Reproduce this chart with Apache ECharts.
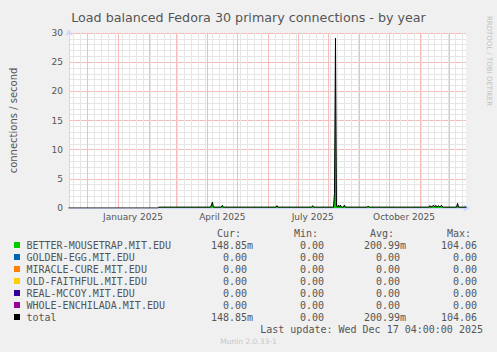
<!DOCTYPE html>
<html><head><meta charset="utf-8">
<script src="https://cdn.jsdelivr.net/npm/echarts@6/dist/echarts.min.js"></script>
<style>html,body{margin:0;padding:0;background:#f0f0f0}#c{width:497px;height:352px}</style>
</head><body><div id="c"></div>
<script>
// ---- texts ----
const chartTitle = 'Load balanced Fedora 30 primary connections - by year';
const yAxisName = 'connections / second';
const xLabelTexts = ['January 2025', 'April 2025', 'July 2025', 'October 2025'];
const xLabelDates = ['2025-01-16', '2025-04-16', '2025-07-16', '2025-10-16'];
const lastUpdate = 'Last update: Wed Dec 17 04:00:00 2025';
const version = 'Munin 2.0.33-1';
const sideText = 'RRDTOOL / TOBI OETIKER';

// ---- data (daily average) ----
const days = [
  '2024-11-12','2025-02-10','2025-02-11','2025-04-04','2025-04-05','2025-04-06','2025-04-07',
  '2025-04-15','2025-04-16','2025-04-17','2025-06-09','2025-06-10','2025-06-11',
  '2025-07-15','2025-07-16','2025-07-17','2025-08-06','2025-08-07','2025-08-08','2025-08-09',
  '2025-08-10','2025-08-11','2025-08-12','2025-08-13','2025-08-14','2025-08-16','2025-08-17','2025-08-18',
  '2025-09-09','2025-09-10','2025-09-11','2025-11-10','2025-11-11','2025-11-12','2025-11-15',
  '2025-11-16','2025-11-17','2025-11-18','2025-11-20','2025-11-21','2025-11-23','2025-11-24',
  '2025-12-08','2025-12-09','2025-12-10','2025-12-18'
];
const mousetrap = [
  0, 0, 0.15, 0.15, 0.5, 1.0, 0.15,
  0.15, 0.45, 0.15, 0.15, 0.4, 0.15,
  0.15, 0.4, 0.15, 0.15, 2.5, 29.1, 0.3,
  0.15, 0.5, 0.15, 0.5, 0.15, 0.15, 0.5, 0.15,
  0.15, 0.35, 0.15, 0.15, 0.4, 0.15, 0.45,
  0.2, 0.45, 0.15, 0.4, 0.2, 0.45, 0.15,
  0.15, 0.8, 0.15, 0.15
];
// other hosts are 0 throughout
const totalVals = mousetrap.slice();

// ---- legend table ----
const hosts = ['BETTER-MOUSETRAP.MIT.EDU','GOLDEN-EGG.MIT.EDU','MIRACLE-CURE.MIT.EDU','OLD-FAITHFUL.MIT.EDU','REAL-MCCOY.MIT.EDU','WHOLE-ENCHILADA.MIT.EDU','total'];
const hostColors = ['#00CC00','#0066B3','#FF8000','#FFCC00','#330099','#990099','#000000'];
const curVals = ['148.85m','0.00','0.00','0.00','0.00','0.00','148.85m'];
const minVals = ['0.00','0.00','0.00','0.00','0.00','0.00','0.00'];
const avgVals = ['200.99m','0.00','0.00','0.00','0.00','0.00','200.99m'];
const maxVals = ['104.06','0.00','0.00','0.00','0.00','0.00','104.06'];
const colHeaders = ['Cur:','Min:','Avg:','Max:'];

const T = s => Date.parse(s + 'T00:00:00Z');
const DAY = 86400000;
const xMin = Date.UTC(2024, 10, 12, 12);
const xMax = xMin + 400 * DAY;

// grid line positions (month starts, Sundays)
const monthLines = [];
for (let i = 0; i < 13; i++) monthLines.push(Date.UTC(2024, 11 + i, 1));
const weekLines = [];
for (let t = Date.UTC(2024, 10, 17); t <= xMax; t += 7 * DAY) {
  if (monthLines.indexOf(t) < 0) weekLines.push(t);
}

const FONT = 'DejaVu Sans';
const MONO = 'DejaVu Sans Mono';
const TXT = '#555555';
const GRID_MINOR = '#e6e6e6';
const GRID_MAJOR = '#f6bcbc';
const AXIS = '#CFD6F8';

const graphic = [];
const rowY0 = 245, rowH = 12;
const colEdges = [253, 330, 406, 483];
const mono = (text, x, y, align) => ({
  type: 'text', x: x, y: y, silent: true,
  style: { text: text, fontSize: 10, fontFamily: MONO, fill: TXT, align: align, verticalAlign: 'middle', textAlign: align, textVerticalAlign: 'middle' }
});
colHeaders.forEach((h, j) => graphic.push(mono(h, colEdges[j] - 12, 233, 'right')));
hosts.forEach((h, i) => {
  const y = rowY0 + i * rowH;
  graphic.push({ type: 'rect', silent: true, shape: { x: 14, y: y - 3, width: 6, height: 6 }, style: { fill: hostColors[i] } });
  graphic.push(mono(h, 26.5, y, 'left'));
  [curVals[i], minVals[i], avgVals[i], maxVals[i]].forEach((v, j) => {
    const m = v.match(/^([\d.]+)(\D?)$/);
    graphic.push(mono(m[1], colEdges[j] - 6, y, 'right'));
    if (m[2]) graphic.push(mono(m[2], colEdges[j] - 6, y, 'left'));
  });
});
graphic.push(mono(lastUpdate, 483, 329, 'right'));
graphic.push({ type: 'text', x: 248.5, y: 341, silent: true,
  style: { text: version, fontSize: 7.5, fontFamily: FONT, fill: '#c8c8c8', align: 'center', verticalAlign: 'middle', textAlign: 'center', textVerticalAlign: 'middle' } });
graphic.push({ type: 'text', x: 488.5, y: 61, rotation: -Math.PI / 2, silent: true,
  style: { text: sideText, fontSize: 7, fontFamily: FONT, fill: '#c0c0c0', align: 'center', verticalAlign: 'middle', textAlign: 'center', textVerticalAlign: 'middle' } });

const chart = echarts.init(document.getElementById('c'), null, { renderer: 'svg' });
const xLabelVals = xLabelDates.map(T);
chart.setOption({
  animation: false,
  backgroundColor: '#f0f0f0',
  title: { text: chartTitle, left: 'center', top: 6, textStyle: { fontFamily: FONT, fontSize: 12.7, fontWeight: 'normal', color: TXT } },
  grid: { left: 66, right: 31, top: 33, bottom: 144, containLabel: false, show: true, backgroundColor: '#ffffff', borderWidth: 0 },
  xAxis: [
    { // weekly minor grid
      type: 'value', min: xMin, max: xMax, position: 'bottom',
      axisLine: { show: false }, axisLabel: { show: false },
      axisTick: { show: false, customValues: weekLines },
      splitLine: { show: true, lineStyle: { color: GRID_MINOR, width: 1 } }
    },
    { // main axis, monthly major grid
      type: 'value', min: xMin, max: xMax, position: 'bottom',
      axisLine: { show: true, onZero: false, lineStyle: { color: AXIS, width: 1 }, symbol: ['none', 'arrow'], symbolSize: [6, 7], symbolOffset: [0, 4] },
      axisTick: { show: false, customValues: monthLines },
      splitLine: { show: true, lineStyle: { color: GRID_MAJOR, width: 1 } },
      axisLabel: {
        customValues: xLabelVals, margin: 4, fontFamily: FONT, fontSize: 9, color: TXT, hideOverlap: false,
        formatter: v => { const i = xLabelVals.indexOf(v); return i >= 0 ? xLabelTexts[i] : ''; }
      }
    }
  ],
  yAxis: {
    type: 'value', min: 0, max: 30, interval: 5,
    name: yAxisName, nameLocation: 'middle', nameGap: 51,
    nameTextStyle: { fontFamily: FONT, fontSize: 10, color: TXT },
    axisLine: { show: true, onZero: false, lineStyle: { color: AXIS, width: 1 }, symbol: ['none', 'arrow'], symbolSize: [6, 7], symbolOffset: [0, 4] },
    axisTick: { show: false },
    minorTick: { show: false, splitNumber: 5 },
    axisLabel: { margin: 6, fontFamily: FONT, fontSize: 9, color: TXT },
    splitLine: { show: true, lineStyle: { color: GRID_MAJOR, width: 1 } },
    minorSplitLine: { show: true, lineStyle: { color: GRID_MINOR, width: 1 } }
  },
  series: [
    { name: hosts[0], type: 'line', xAxisIndex: 1, z: 3, showSymbol: false, silent: true,
      data: days.map((d, i) => [T(d), mousetrap[i]]),
      lineStyle: { width: 0 }, itemStyle: { color: '#00CC00' }, areaStyle: { color: '#00CC00', opacity: 1 } },
    { name: 'total', type: 'line', xAxisIndex: 1, z: 4, showSymbol: false, silent: true,
      data: days.map((d, i) => [T(d), totalVals[i]]),
      lineStyle: { width: 1, color: '#000000' }, itemStyle: { color: '#000000' } }
  ],
  graphic: graphic
});
</script></body></html>
